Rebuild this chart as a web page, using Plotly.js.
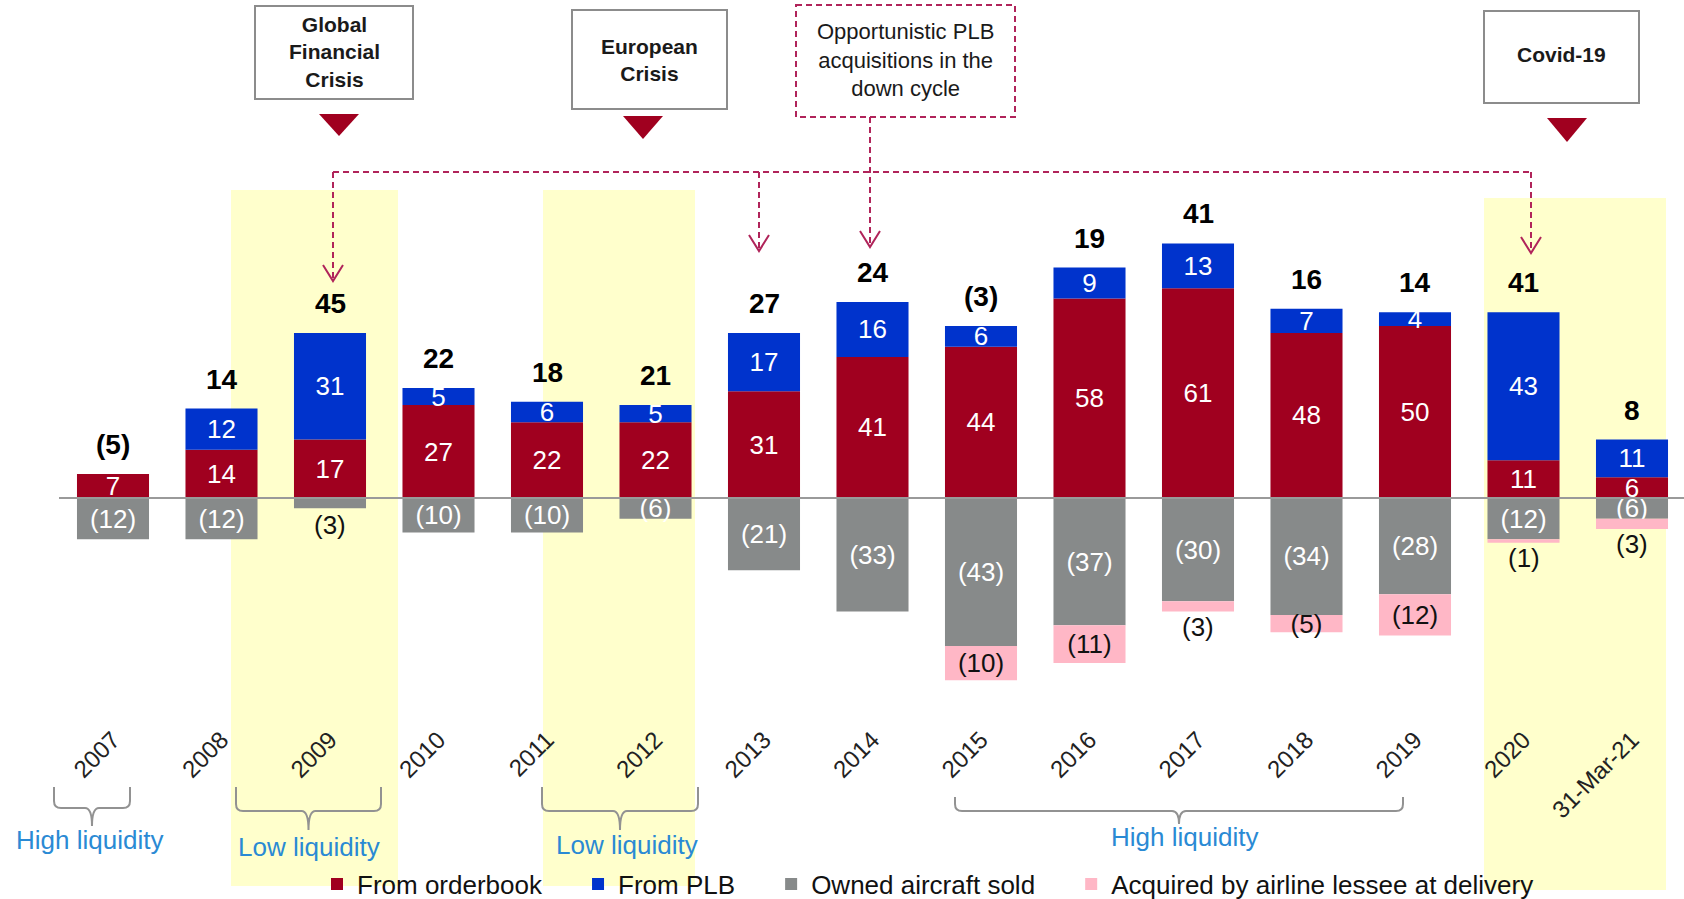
<!DOCTYPE html>
<html>
<head>
<meta charset="utf-8">
<script src="https://cdn.plot.ly/plotly-3.0.1.min.js"></script>
<style>
  html, body { margin: 0; padding: 0; background: #fff; }
  #chart { width: 1684px; height: 899px; }
</style>
</head>
<body>
<div id="chart"></div>
<script>
// data
const years = ['2007', '2008', '2009', '2010', '2011', '2012', '2013', '2014',
               '2015', '2016', '2017', '2018', '2019', '2020', '31-Mar-21'];
const fromOrderbook    = [7, 14, 17, 27, 22, 22, 31, 41, 44, 58, 61, 48, 50, 11, 6];
const fromPLB          = [0, 12, 31, 5, 6, 5, 17, 16, 6, 9, 13, 7, 4, 43, 11];
const ownedSold        = [-12, -12, -3, -10, -10, -6, -21, -33, -43, -37, -30, -34, -28, -12, -6];
const acquiredByLessee = [0, 0, 0, 0, 0, 0, 0, 0, -10, -11, -3, -5, -12, -1, -3];
const seriesNames = ['From orderbook', 'From PLB', 'Owned aircraft sold', 'Acquired by airline lessee at delivery'];

const events = ['<b>Global<br>Financial<br>Crisis</b>', '<b>European<br>Crisis</b>', '<b>Covid-19</b>'];
const liquidityLabels = ['High liquidity', 'Low liquidity', 'Low liquidity', 'High liquidity'];

// page geometry (pixels)
const W = 1684, H = 899;
const plotH = 720;            // plot area height, the rest holds tick labels + legend
const zeroPx = 498, pxPerUnit = 3.44;
const firstCenter = 113, step = 108.5;

const px = x => x / W;
const py = y => (plotH - y) / plotH;

const FONT = 'Liberation Sans, Arial, sans-serif';
const RED = '#a0001f', BLUE = '#0033cc', GREY = '#878a8a', PINK = '#ffb7c6';
const ARROW = '#b0245a';

const fmt = v => v < 0 ? '(' + Math.abs(v) + ')' : String(v);

function barTrace(name, vals, color, textColor, minInside) {
  return {
    type: 'bar', name: name + '\u00a0\u00a0\u00a0\u00a0\u200a', x: years, y: vals, width: 0.664,
    marker: { color: color, line: { width: 0 } },
    text: vals.map(v => (v !== 0 && Math.abs(v) >= minInside) ? fmt(v) : ''),
    textposition: 'inside', insidetextanchor: 'middle', textangle: 0,
    textfont: { family: FONT, size: 26, color: textColor },
    hoverinfo: 'skip'
  };
}

const data = [
  barTrace(seriesNames[0], fromOrderbook, RED, '#fff', 1),
  barTrace(seriesNames[1], fromPLB, BLUE, '#fff', 1),
  barTrace(seriesNames[2], ownedSold, GREY, '#fff', 5),
  barTrace(seriesNames[3], acquiredByLessee, PINK, '#111', 5)
];

const annotations = [];

// net totals above each bar (x given as category index)
years.forEach((yr, i) => {
  const net = fromOrderbook[i] + fromPLB[i] + ownedSold[i] + acquiredByLessee[i];
  annotations.push({
    x: i, y: fromOrderbook[i] + fromPLB[i], xref: 'x', yref: 'y',
    text: '<b>' + fmt(net) + '</b>', showarrow: false, xanchor: 'center', yanchor: 'bottom', yshift: 12,
    font: { family: FONT, size: 28, color: '#000' }
  });
  // small negative values get their label under the bar
  if (ownedSold[i] !== 0 && Math.abs(ownedSold[i]) < 5) {
    annotations.push({
      x: i, y: ownedSold[i], xref: 'x', yref: 'y', text: fmt(ownedSold[i]),
      showarrow: false, xanchor: 'center', yanchor: 'top', font: { family: FONT, size: 26, color: '#111' }
    });
  }
  if (acquiredByLessee[i] !== 0 && Math.abs(acquiredByLessee[i]) < 5) {
    annotations.push({
      x: i, y: ownedSold[i] + acquiredByLessee[i], xref: 'x', yref: 'y', text: fmt(acquiredByLessee[i]),
      showarrow: false, xanchor: 'center', yanchor: 'top', yshift: 2,
      font: { family: FONT, size: 26, color: '#111' }
    });
  }
});

const shapes = [];

// shaded crisis periods
[[231, 398, 190, 886], [543, 695, 190, 886], [1484, 1666, 198, 890]].forEach(b => {
  shapes.push({ type: 'rect', xref: 'paper', yref: 'paper', layer: 'below',
    x0: px(b[0]), x1: px(b[1]), y0: py(b[2]), y1: py(b[3]),
    fillcolor: '#ffffcc', line: { width: 0 } });
});

// zero line
shapes.push({ type: 'line', xref: 'paper', yref: 'y', x0: px(59), x1: 1, y0: 0, y1: 0,
  line: { color: '#9a9a9a', width: 2 } });

const paperText = (x, y, text, size, color) => annotations.push({
  xref: 'paper', yref: 'paper', x: px(x), y: py(y), xanchor: 'center', yanchor: 'middle',
  text: text, showarrow: false, font: { family: FONT, size: size, color: color } });

// event boxes + triangles
const eventBoxes = [[255, 413, 6, 99], [572, 727, 10, 109], [1484, 1639, 11, 103]];
const eventText = [[334, 52], [649.5, 59.5], [1561.5, 55]];
const triangles = [[339, 114, 136], [643, 116, 139], [1567, 118, 142]];
eventBoxes.forEach((b, i) => {
  shapes.push({ type: 'rect', xref: 'paper', yref: 'paper',
    x0: px(b[0]), x1: px(b[1]), y0: py(b[2]), y1: py(b[3]),
    fillcolor: '#fff', line: { color: '#8c8c8c', width: 2 } });
  const t = triangles[i];
  shapes.push({ type: 'path', xref: 'paper', yref: 'paper',
    path: `M ${px(t[0] - 20)} ${py(t[1])} L ${px(t[0] + 20)} ${py(t[1])} L ${px(t[0])} ${py(t[2])} Z`,
    fillcolor: RED, line: { width: 0 } });
  paperText(eventText[i][0], eventText[i][1], events[i], 21, '#1a1a1a');
});

// opportunistic PLB box (dashed)
shapes.push({ type: 'rect', xref: 'paper', yref: 'paper',
  x0: px(796), x1: px(1015), y0: py(5), y1: py(117),
  fillcolor: '#fff', line: { color: ARROW, width: 2, dash: '6px,4px' } });
paperText(905.5, 60, 'Opportunistic PLB<br>acquisitions in the<br>down cycle', 22, '#1a1a1a');

// dashed connector + arrows
const dashLine = (x0, y0, x1, y1) => shapes.push({ type: 'line', xref: 'paper', yref: 'paper',
  x0: px(x0), y0: py(y0), x1: px(x1), y1: py(y1), line: { color: ARROW, width: 2, dash: '6px,4px' } });
dashLine(333, 172, 1531, 172);
[[333, 172, 281], [759, 172, 251], [870, 117, 247], [1531, 172, 253]].forEach(a => {
  dashLine(a[0], a[1], a[0], a[2] - 2);
  shapes.push({ type: 'path', xref: 'paper', yref: 'paper',
    path: `M ${px(a[0] - 10)} ${py(a[2] - 16)} L ${px(a[0])} ${py(a[2])} L ${px(a[0] + 10)} ${py(a[2] - 16)}`,
    line: { color: ARROW, width: 2 } });
});

// liquidity braces
const braces = [[54, 130, 787, 808, 826], [236, 381, 787, 811, 830], [542, 698, 787, 811, 830], [955, 1403, 797, 811, 824]];
const liqPos = [[89, 840], [309, 847], [627, 845], [1184, 837]];
braces.forEach((b, i) => {
  const [xl, xr, yt, ym, yb] = b, xc = (xl + xr) / 2, r = 7;
  const P = (x, y) => `${px(x)} ${py(y)}`;
  shapes.push({ type: 'path', xref: 'paper', yref: 'paper',
    path: `M ${P(xl, yt)} L ${P(xl, ym - r)} Q ${P(xl, ym)} ${P(xl + r, ym)} L ${P(xc - r, ym)} ` +
          `Q ${P(xc, ym)} ${P(xc, yb)} Q ${P(xc, ym)} ${P(xc + r, ym)} L ${P(xr - r, ym)} ` +
          `Q ${P(xr, ym)} ${P(xr, ym - r)} L ${P(xr, yt)}`,
    line: { color: '#929292', width: 2 } });
  paperText(liqPos[i][0], liqPos[i][1], liquidityLabels[i], 26, '#2a8ad4');
});

const layout = {
  width: W, height: H,
  margin: { l: 0, r: 0, t: 0, b: H - plotH, autoexpand: false },
  paper_bgcolor: '#fff', plot_bgcolor: 'rgba(0,0,0,0)',
  barmode: 'relative',
  uniformtext: { mode: 'show', minsize: 26 },
  xaxis: {
    type: 'category', range: [-firstCenter / step, (W - firstCenter) / step],
    tickangle: -45, tickfont: { family: FONT, size: 24, color: '#222' },
    showgrid: false, showline: false, zeroline: false, ticks: '', fixedrange: true
  },
  yaxis: {
    range: [-(plotH - zeroPx) / pxPerUnit, zeroPx / pxPerUnit],
    visible: false, showgrid: false, zeroline: false, fixedrange: true
  },
  showlegend: true,
  legend: {
    orientation: 'h', x: px(317), y: py(884), xanchor: 'left', yanchor: 'middle',
    bgcolor: 'rgba(0,0,0,0)', font: { family: FONT, size: 26, color: '#111' },
    traceorder: 'normal'
  },
  shapes: shapes,
  annotations: annotations
};

Plotly.newPlot('chart', data, layout, { staticPlot: true });
</script>
</body>
</html>
